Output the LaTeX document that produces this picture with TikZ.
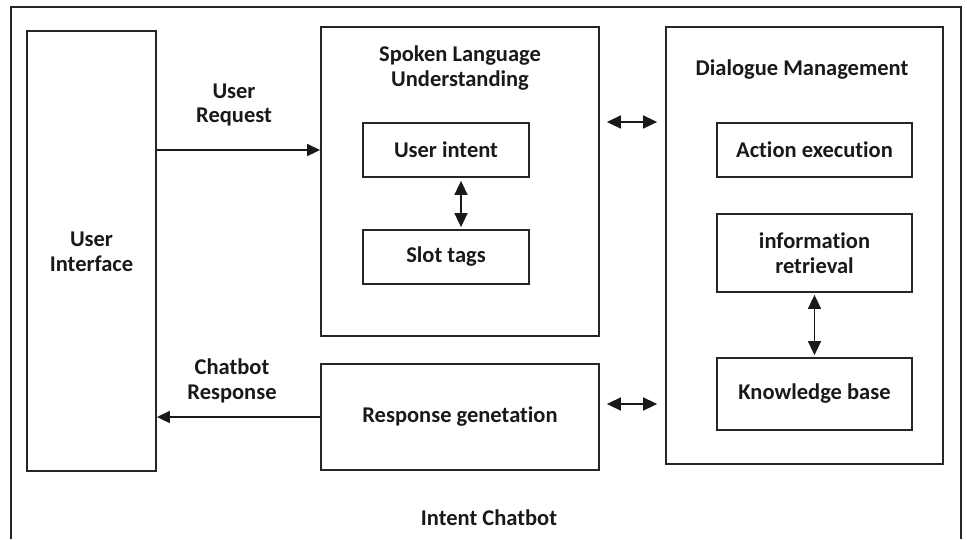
\documentclass[tikz,border=0pt]{standalone}
\usepackage{fontspec}
\setmainfont{Carlito}[Ligatures=CommonOff]
\usetikzlibrary{arrows.meta}
\begin{document}
\begin{tikzpicture}[x=1pt,y=-1pt,
  box/.style={draw=black!85,line width=1.8pt,inner sep=0pt},
  lbl/.style={font=\fontsize{22.5}{24.5}\selectfont\bfseries,align=center,text=black!90},
  tip/.style={-{Triangle[length=14pt,width=13pt]}},
  conn/.style={line width=1.6pt,black!90,-{Triangle[length=13pt,width=12pt]}},
  dconn/.style={line width=1.6pt,black!90,{Triangle[length=14pt,width=13pt]}-{Triangle[length=14pt,width=13pt]}}]
  \useasboundingbox (0,0) rectangle (967,539);
  % open outer frame
  \draw[line width=1.5pt,black!85] (11,539) -- (11,7) -- (961,7) -- (961,539);
  % user interface
  \node[box,minimum width=129pt,minimum height=440pt] (ui) at (91.5,251) {};
  \node[lbl] at (91.5,252) {User\\Interface};
  % spoken language understanding
  \node[box,minimum width=278pt,minimum height=309pt] (slu) at (460,181.5) {};
  \node[lbl] at (460,68) {Spoken Language\\Understanding};
  \node[box,minimum width=166pt,minimum height=54pt,lbl] (intent) at (446,150) {User intent};
  \node[box,minimum width=166pt,minimum height=54pt,lbl] (slot) at (446,257) {Slot tags};
  % response generation
  \node[box,minimum width=278pt,minimum height=106pt,lbl] (resp) at (460,417) {Response genetation};
  % dialogue management
  \node[box,minimum width=277pt,minimum height=437pt] (dm) at (804.5,245.5) {};
  \node[lbl] at (802,70) {Dialogue Management};
  \node[box,minimum width=195pt,minimum height=54pt,lbl] (act) at (814.5,150) {Action execution};
  \node[box,minimum width=195pt,minimum height=78pt,lbl] (info) at (814.5,253) {information\\retrieval};
  \node[box,minimum width=195pt,minimum height=72pt,lbl] (kb) at (814.5,394) {Knowledge base};
  % connectors
  \draw[conn] (ui.east |- 0,150) -- (slu.west |- 0,150);
  \node[lbl] at (234,105) {User\\Request};
  \draw[conn] (resp.west) -- (ui.east |- resp.west);
  \node[lbl] at (232,381) {Chatbot\\Response};
  \draw[dconn] ([xshift=7pt]slu.east |- 0,122) -- ([xshift=-8pt]dm.west |- 0,122);
  \draw[dconn] ([xshift=7pt]resp.east |- 0,404) -- ([xshift=-8pt]dm.west |- 0,404);
  \draw[dconn] ([yshift=-3pt]intent.south -| 461,0) -- ([yshift=2pt]slot.north -| 461,0);
  \draw[dconn] ([yshift=-2pt]info.south) -- ([yshift=2pt]kb.north);
  \node[lbl] at (489,518) {Intent Chatbot};
\end{tikzpicture}
\end{document}
